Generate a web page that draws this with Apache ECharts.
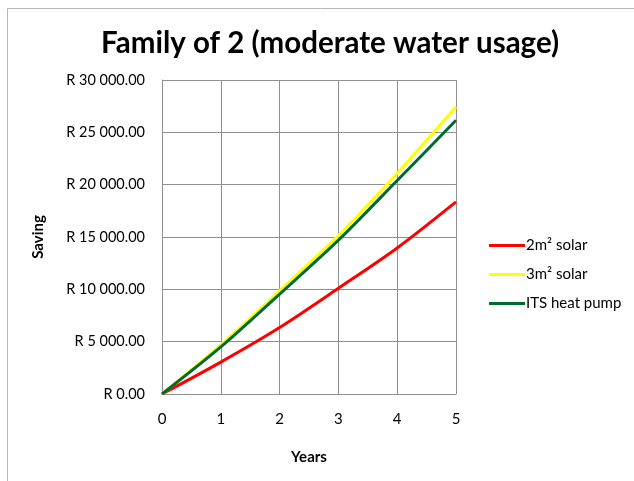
<!DOCTYPE html>
<html>
<head>
<meta charset="utf-8">
<script src="https://cdn.jsdelivr.net/npm/echarts@6/dist/echarts.min.js"></script>
<style>
  html, body { margin: 0; padding: 0; background: #fff; }
  #chart { width: 634px; height: 481px; }
</style>
</head>
<body>
<div id="chart"></div>
<script>
// values
var years = [0, 1, 2, 3, 4, 5];
var solar2 = [0, 3050, 6350, 10100, 13950, 18350];
var solar3 = [0, 4700, 9850, 15150, 21100, 27450];
var heatPump = [0, 4500, 9550, 14700, 20400, 26150];

function pairs(vals) {
  return years.map(function(y, i) { return [y, vals[i]]; });
}

function rand(v) {
  var s = String(Math.round(v)).replace(/\B(?=(\d{3})+(?!\d))/g, " ");
  return "R " + s + ".00";
}

var chart = echarts.init(document.getElementById("chart"));
var font = "Lato";

var option = {
  animation: false,
  textStyle: { fontFamily: font },
  title: {
    text: "Family of 2 (moderate water usage)",
    left: 96,
    top: 23,
    textStyle: { fontFamily: font, fontSize: 29.5, fontWeight: "bold", color: "#000" }
  },
  graphic: [
    {
      type: "polyline",
      shape: { points: [[7.5, 481], [7.5, 8.5], [634, 8.5]] },
      style: { stroke: "#b8b8b8", lineWidth: 1, fill: null }
    }
  ],
  legend: {
    orient: "vertical",
    left: 484,
    top: 233,
    itemWidth: 36,
    itemHeight: 3,
    itemGap: 14,
    icon: "rect",
    textStyle: { fontFamily: font, fontSize: 15, color: "#000", padding: [0, 0, 0, -4] },
    data: ["2m² solar", "3m² solar", "ITS heat pump"]
  },
  grid: { left: 162, right: 178, top: 80, bottom: 87 },
  xAxis: {
    type: "value",
    min: 0,
    max: 5,
    interval: 1,
    name: "Years",
    nameLocation: "middle",
    nameGap: 56,
    nameTextStyle: { fontFamily: font, fontSize: 15, fontWeight: "bold", color: "#000" },
    axisLine: { lineStyle: { color: "#909090" } },
    axisTick: { show: false },
    axisLabel: { color: "#000", fontSize: 15, margin: 18 },
    splitLine: { show: true, lineStyle: { color: "#909090", width: 1 } }
  },
  yAxis: {
    type: "value",
    min: 0,
    max: 30000,
    interval: 5000,
    name: "Saving",
    nameLocation: "middle",
    nameGap: 116,
    nameTextStyle: { fontFamily: font, fontSize: 15, fontWeight: "bold", color: "#000" },
    axisLine: { show: true, lineStyle: { color: "#909090" } },
    axisTick: { show: false },
    axisLabel: { color: "#000", fontSize: 14.5, margin: 17, formatter: rand },
    splitLine: { show: true, lineStyle: { color: "#909090", width: 1 } }
  },
  series: [
    {
      name: "2m² solar",
      type: "line",
      smooth: 0.3,
      showSymbol: false,
      symbol: "none",
      data: pairs(solar2),
      itemStyle: { color: "#ff0000" },
      lineStyle: { color: "#ff0000", width: 3 }
    },
    {
      name: "3m² solar",
      type: "line",
      smooth: 0.3,
      showSymbol: false,
      symbol: "none",
      data: pairs(solar3),
      itemStyle: { color: "#ffff00" },
      lineStyle: { color: "#ffff00", width: 3 }
    },
    {
      name: "ITS heat pump",
      type: "line",
      smooth: 0.3,
      showSymbol: false,
      symbol: "none",
      data: pairs(heatPump),
      itemStyle: { color: "#006b2e" },
      lineStyle: { color: "#006b2e", width: 3 }
    }
  ]
};
chart.setOption(option);
</script>
</body>
</html>
